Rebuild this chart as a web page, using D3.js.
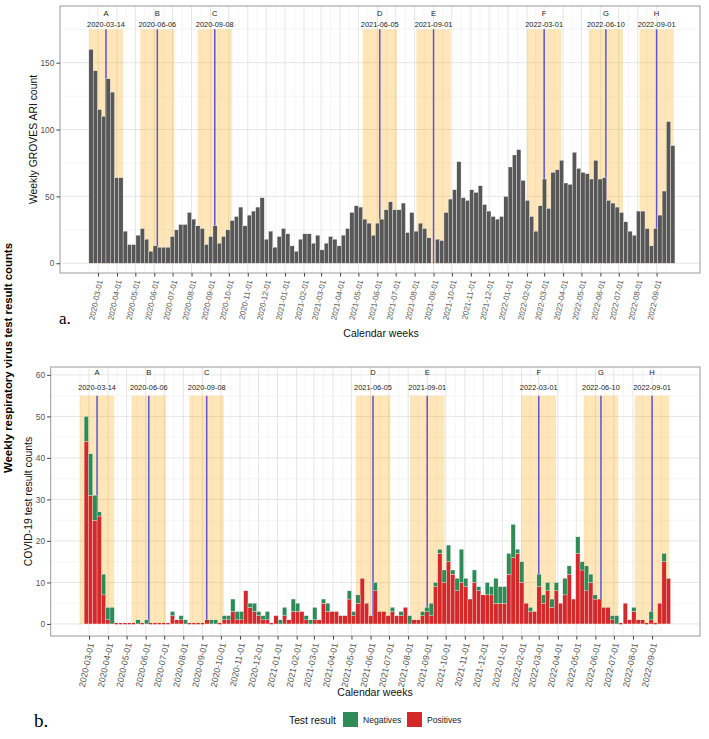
<!DOCTYPE html>
<html><head><meta charset="utf-8">
<script src="https://cdn.jsdelivr.net/npm/d3@7"></script>
<style>body{margin:0;background:#fff} text{font-family:"Liberation Sans",Arial,Helvetica,sans-serif}</style>
</head><body><svg id="c" width="709" height="739"></svg>
<script>
// ---------------- data ----------------
const firstWeekARI = "2020-02-15";
const ariCounts = [160,144,115,110,138,128,64,64,24,14,
14,21,26,18,9,13,12,12,12,20,
25,29,29,38,33,28,26,14,20,28,
15,20,25,32,35,42,28,36,39,42,
49,18,24,12,20,26,22,13,9,18,
22,22,15,21,10,15,20,18,13,21,
26,38,43,42,33,30,21,30,33,40,
46,40,40,45,23,38,24,30,26,19,
0,18,17,38,48,55,76,49,47,55,
53,58,44,39,35,33,35,50,72,81,
85,62,47,35,24,43,63,41,68,70,
77,60,59,83,71,68,67,63,77,63,
64,47,45,42,38,31,24,21,39,39,
26,13,26,36,54,106,88];

const firstWeekTest = "2020-02-22";
const positives = [44,31,25,26,7,1,0,0,0,0,
0,0,0,0,0,0,0,0,0,0,
2,1,1,0,0,0,0,0,1,0,
0,0,1,1,3,1,1,8,4,3,
2,1,1,0,2,0,2,1,3,3,
3,1,0,1,1,5,3,3,3,2,
2,6,2,5,11,5,2,8,3,3,
2,3,2,2,4,0,1,1,2,3,
2,9,17,10,15,12,8,10,9,6,
10,8,7,7,7,5,5,5,12,16,
17,10,5,3,3,9,5,8,4,8,
5,7,12,6,17,13,8,10,6,6,
4,4,1,0,0,5,1,3,1,1,
0,1,0,5,15,11];
const negatives = [6,10,6,1,5,3,4,0,0,0,
0,0,1,0,1,0,0,0,0,0,
1,0,1,1,0,0,0,0,0,1,
1,0,1,1,3,2,2,0,1,2,
1,1,2,0,0,1,2,0,3,2,
0,1,1,3,0,1,2,0,0,0,
0,2,1,2,0,0,0,2,0,0,
0,1,0,1,0,2,0,0,1,1,
3,1,1,3,4,1,3,8,2,0,
3,1,0,3,2,6,4,4,5,8,
1,5,0,1,0,3,2,2,2,2,
0,4,2,0,4,2,6,2,1,0,
0,0,1,2,0,0,0,1,0,0,
0,2,0,0,2,0];

const eventLetters = ["A","B","C","D","E","F","G","H"];
const eventDates = ["2020-03-14","2020-06-06","2020-09-08","2021-06-05","2021-09-01","2022-03-01","2022-06-10","2022-09-01"];
const eventHalfWindowDays = 28;

const monthTickLabels = ["2020-03-01","2020-04-01","2020-05-01","2020-06-01","2020-07-01","2020-08-01","2020-09-01","2020-10-01","2020-11-01","2020-12-01",
"2021-01-01","2021-02-01","2021-03-01","2021-04-01","2021-05-01","2021-06-01","2021-07-01","2021-08-01","2021-09-01","2021-10-01","2021-11-01","2021-12-01",
"2022-01-01","2022-02-01","2022-03-01","2022-04-01","2022-05-01","2022-06-01","2022-07-01","2022-08-01","2022-09-01"];
const ariTicks = [0,50,100,150];
const ariMinor = [25,75,125,175];
const testTicks = [0,10,20,30,40,50,60];
const testMinor = [5,15,25,35,45,55];
const legendLabels = ["Negatives","Positives"];

// ---------------- setup ----------------
const parse = d3.timeParse("%Y-%m-%d");
const fmt = d3.timeFormat("%Y-%m-%d");
const svg = d3.select("#c");
const RED = "#d3292a", GREEN = "#2e8b57", GREY = "#575757", BLUE = "#5d55d4";
const monthDates = monthTickLabels.map(parse);
const events = eventDates.map((d,i)=>({letter:eventLetters[i], date:parse(d)}));

function minorDates(){
  const m = [];
  const all = [d3.timeMonth.offset(monthDates[0],-1), ...monthDates, d3.timeMonth.offset(monthDates[monthDates.length-1],1)];
  for(let i=0;i<all.length-1;i++) m.push(new Date((+all[i] + +all[i+1])/2));
  return m;
}

function drawPanel(o){
  const g = svg.append("g");
  const [x0,x1] = o.x.range(), [yb,yt] = o.y.range();
  const clipId = "clip"+o.id;
  svg.append("clipPath").attr("id",clipId).append("rect").attr("x",x0).attr("y",yt).attr("width",x1-x0).attr("height",yb-yt);
  const inner = g.append("g").attr("clip-path",`url(#${clipId})`);
  inner.append("rect").attr("x",x0).attr("y",yt).attr("width",x1-x0).attr("height",yb-yt).attr("fill","#fff");
  inner.selectAll(".vmin").data(minorDates()).join("line")
    .attr("x1",d=>o.x(d)).attr("x2",d=>o.x(d)).attr("y1",yt).attr("y2",yb)
    .attr("stroke","#f0f0f0").attr("stroke-width",0.6);
  inner.selectAll(".hmin").data(o.minor).join("line")
    .attr("x1",x0).attr("x2",x1).attr("y1",d=>o.y(d)).attr("y2",d=>o.y(d))
    .attr("stroke","#f0f0f0").attr("stroke-width",0.6);
  inner.selectAll(".vmaj").data(monthDates).join("line")
    .attr("x1",d=>o.x(d)).attr("x2",d=>o.x(d)).attr("y1",yt).attr("y2",yb)
    .attr("stroke","#e6e6e6").attr("stroke-width",1);
  inner.selectAll(".hmaj").data(o.ticks).join("line")
    .attr("x1",x0).attr("x2",x1).attr("y1",d=>o.y(d)).attr("y2",d=>o.y(d))
    .attr("stroke","#e6e6e6").attr("stroke-width",1);
  inner.selectAll(".shade").data(events).join("rect")
    .attr("x",d=>o.x(d3.timeDay.offset(d.date,-eventHalfWindowDays)))
    .attr("width",d=>o.x(d3.timeDay.offset(d.date,eventHalfWindowDays))-o.x(d3.timeDay.offset(d.date,-eventHalfWindowDays)))
    .attr("y",o.y(o.shadeTop)).attr("height",o.y(0)-o.y(o.shadeTop))
    .attr("fill","#ffa500").attr("fill-opacity",0.28);
  inner.selectAll(".evl").data(events).join("line")
    .attr("x1",d=>o.x(d.date)).attr("x2",d=>o.x(d.date))
    .attr("y1",o.y(o.shadeTop)).attr("y2",o.y(0))
    .attr("stroke",BLUE).attr("stroke-width",1.5);
  o.drawBars(inner);
  inner.selectAll(".evlet").data(events).join("text")
    .attr("x",d=>o.x(d.date)).attr("y",o.y(o.letterY)).attr("dy","0.35em")
    .attr("text-anchor","middle").attr("font-size",7.6).attr("fill","#222").text(d=>d.letter);
  inner.selectAll(".evdate").data(events).join("text")
    .attr("x",d=>o.x(d.date)).attr("y",o.y(o.dateY)).attr("dy","0.35em")
    .attr("text-anchor","middle").attr("font-size",7.4).attr("fill","#222").text(d=>fmt(d.date));
  g.append("rect").attr("x",x0).attr("y",yt).attr("width",x1-x0).attr("height",yb-yt)
    .attr("fill","none").attr("stroke","#9a9a9a").attr("stroke-width",1);
  const xa = g.append("g").attr("transform",`translate(0,${yb})`)
    .call(d3.axisBottom(o.x).tickValues(monthDates).tickFormat(fmt).tickSize(3.6));
  xa.select(".domain").remove();
  xa.selectAll(".tick line").attr("stroke","#444");
  xa.selectAll(".tick text").attr("x",0).attr("y",0).attr("dy","0.35em").attr("dx",0)
    .attr("transform",`translate(1.5,${o.labOff}) rotate(-78)`).attr("text-anchor","end")
    .attr("font-size",o.xfs).attr("fill","#555").style("font-family","Liberation Sans, Arial, sans-serif");
  const ya = g.append("g").attr("transform",`translate(${x0},0)`)
    .call(d3.axisLeft(o.y).tickValues(o.ticks).tickSize(3.6).tickPadding(2));
  ya.select(".domain").remove();
  ya.selectAll(".tick line").attr("stroke","#444");
  ya.selectAll(".tick text").attr("font-size",8.4).attr("fill","#555").style("font-family","Liberation Sans, Arial, sans-serif");
  g.append("text").attr("transform",`translate(${o.ytx},${(yb+yt)/2}) rotate(-90)`)
    .attr("text-anchor","middle").attr("dy","0.35em").attr("font-size",10.4).attr("fill","#111").text(o.ytitle);
  g.append("text").attr("x",o.xtx).attr("y",o.xty).attr("text-anchor","middle")
    .attr("font-size",10.5).attr("fill","#111").text("Calendar weeks");
}

// ---------- top panel ----------
const xT = d3.scaleTime().domain([new Date(2019,11,29,18), new Date(2022,10,11)]).range([60,700]);
const yT = d3.scaleLinear().domain([-7.3,192.4]).range([273,6]);
const ariWeeks = ariCounts.map((v,i)=>({start:d3.timeDay.offset(parse(firstWeekARI),7*i), v}));
drawPanel({id:"T", x:xT, y:yT, ticks:ariTicks, minor:ariMinor, shadeTop:175, letterY:187.2, dateY:179,
  labOff:7, xfs:8, ytx:33, ytitle:"Weekly GROVES ARI count", xtx:381, xty:337,
  drawBars:(g)=>{
    g.selectAll(".ari").data(ariWeeks.filter(d=>d.v>0)).join("rect")
      .attr("x",d=>xT(d.start)).attr("width",d=>xT(d3.timeDay.offset(d.start,7))-xT(d.start))
      .attr("y",d=>yT(d.v)).attr("height",d=>yT(0)-yT(d.v))
      .attr("fill",GREY).attr("stroke","#fff").attr("stroke-width",0.35);
  }});

// ---------- bottom panel ----------
const xB = d3.scaleTime().domain([new Date(2019,11,29,18), new Date(2022,10,17,19)]).range([50.7,700]);
const yB = d3.scaleLinear().domain([-2.9,61.9]).range([636,367]);
const testWeeks = positives.map((p,i)=>({start:d3.timeDay.offset(parse(firstWeekTest),7*i), pos:p, neg:negatives[i]}));
const stack = d3.stack().keys(["pos","neg"])(testWeeks);
drawPanel({id:"B", x:xB, y:yB, ticks:testTicks, minor:testMinor, shadeTop:55, letterY:60.5, dateY:57.1,
  labOff:7, xfs:8.8, ytx:28, ytitle:"COVID-19 test result counts", xtx:375, xty:696,
  drawBars:(g)=>{
    const cols = [RED, GREEN];
    stack.forEach((layer,k)=>{
      g.append("g").selectAll("rect").data(layer.filter(d=>d[1]>d[0])).join("rect")
        .attr("x",d=>xB(d.data.start)).attr("width",d=>xB(d3.timeDay.offset(d.data.start,7))-xB(d.data.start))
        .attr("y",d=>yB(d[1])).attr("height",d=>yB(d[0])-yB(d[1]))
        .attr("fill",cols[k]).attr("stroke","#fff").attr("stroke-width",0.3);
    });
    g.append("g").selectAll("rect").data(testWeeks.filter(d=>d.pos+d.neg===0)).join("rect")
      .attr("x",d=>xB(d.start)+0.3).attr("width",d=>xB(d3.timeDay.offset(d.start,7))-xB(d.start)-1)
      .attr("y",yB(0)-1).attr("height",1.3).attr("fill",RED);
  }});

// ---------- extra labels ----------
svg.append("text").attr("transform","translate(8,358) rotate(-90)").attr("text-anchor","middle").attr("dy","0.35em")
  .attr("font-size",10.5).attr("font-weight","bold").attr("fill","#000")
  .attr("textLength",230).attr("lengthAdjust","spacingAndGlyphs")
  .text("Weekly respiratory virus test result counts");
svg.append("text").attr("x",59).attr("y",324).attr("font-size",17).style("font-family","'Liberation Serif','Times New Roman',serif").text("a.");
svg.append("text").attr("x",34).attr("y",727).attr("font-size",19).style("font-family","'Liberation Serif','Times New Roman',serif").text("b.");

// legend
const lg = svg.append("g");
lg.append("text").attr("x",289).attr("y",723.5).attr("font-size",10.3).attr("fill","#111").text("Test result");
const legCols = [GREEN, RED], legX = [343,407];
legendLabels.forEach((l,i)=>{
  lg.append("rect").attr("x",legX[i]).attr("y",712).attr("width",15).attr("height",15).attr("fill",legCols[i]);
  lg.append("text").attr("x",legX[i]+20).attr("y",722.5).attr("font-size",8.6).attr("fill","#222").text(l);
});
</script></body></html>
